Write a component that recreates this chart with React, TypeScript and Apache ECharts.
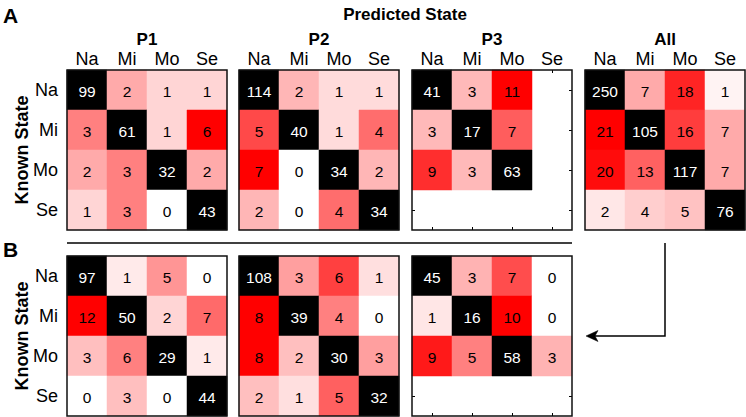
import React, { useEffect, useRef } from "react";
import * as echarts from "echarts";

const states = ["Na", "Mi", "Mo", "Se"];

// Panel A (rows = known state, columns = predicted state)
const aP1 = [
  [99, 2, 1, 1],
  [3, 61, 1, 6],
  [2, 3, 32, 2],
  [1, 3, 0, 43],
];
const aP2 = [
  [114, 2, 1, 1],
  [5, 40, 1, 4],
  [7, 0, 34, 2],
  [2, 0, 4, 34],
];
const aP3 = [
  [41, 3, 11, null],
  [3, 17, 7, null],
  [9, 3, 63, null],
  [null, null, null, null],
];
const aAll = [
  [250, 7, 18, 1],
  [21, 105, 16, 7],
  [20, 13, 117, 7],
  [2, 4, 5, 76],
];
// Panel B
const bP1 = [
  [97, 1, 5, 0],
  [12, 50, 2, 7],
  [3, 6, 29, 1],
  [0, 3, 0, 44],
];
const bP2 = [
  [108, 3, 6, 1],
  [8, 39, 4, 0],
  [8, 2, 30, 3],
  [2, 1, 5, 32],
];
const bP3 = [
  [45, 3, 7, 0],
  [1, 16, 10, 0],
  [9, 5, 58, 3],
  [null, null, null, null],
];

const panelTitles = ["P1", "P2", "P3", "All"];

const FONT = "'Liberation Sans', Arial, Helvetica, sans-serif";

const panels = [
  { data: aP1, left: 67, top: 70, title: panelTitles[0], yLabels: true },
  { data: aP2, left: 239, top: 70, title: panelTitles[1], yLabels: false },
  { data: aP3, left: 412, top: 70, title: panelTitles[2], yLabels: false },
  { data: aAll, left: 585, top: 70, title: panelTitles[3], yLabels: false },
  { data: bP1, left: 67, top: 256, title: null, yLabels: true },
  { data: bP2, left: 239, top: 256, title: null, yLabels: false },
  { data: bP3, left: 412, top: 256, title: null, yLabels: false },
];

const SIZE = 160;

function buildOption() {
  const grid: any[] = [];
  const xAxis: any[] = [];
  const yAxis: any[] = [];
  const series: any[] = [];
  const graphic: any[] = [];

  panels.forEach((p, gi) => {
    grid.push({ left: p.left, top: p.top, width: SIZE, height: SIZE, containLabel: false });
    const tick = { show: true, inside: true, length: 3, alignWithLabel: true, lineStyle: { color: "#000", width: 1 } };
    const isTop = p.top < 100;
    xAxis.push({
      type: "category", gridIndex: gi, data: states, position: "top",
      axisLine: { show: false }, axisTick: tick,
      axisLabel: { show: isTop, margin: 2, fontSize: 18, color: "#000", fontFamily: FONT },
      splitLine: { show: false },
    });
    xAxis.push({
      type: "category", gridIndex: gi, data: states, position: "bottom",
      axisLine: { show: false }, axisTick: tick, axisLabel: { show: false },
    });
    yAxis.push({
      type: "category", gridIndex: gi, data: states, inverse: true, position: "left",
      axisLine: { show: false }, axisTick: tick,
      axisLabel: { show: p.yLabels, margin: 9, fontSize: 18, color: "#000", fontFamily: FONT },
    });
    yAxis.push({
      type: "category", gridIndex: gi, data: states, inverse: true, position: "right",
      axisLine: { show: false }, axisTick: tick, axisLabel: { show: false },
    });

    let maxOff = 0;
    p.data.forEach((row, r) => row.forEach((v, c) => {
      if (v !== null && r !== c && v > maxOff) maxOff = v;
    }));
    const cells: any[] = [];
    p.data.forEach((row, r) => row.forEach((v, c) => {
      if (v === null) return;
      let fill: string;
      let textFill: string;
      if (r === c) {
        fill = "#000";
        textFill = "#fff";
      } else {
        const t = maxOff > 0 ? v / maxOff : 0;
        const g = Math.round(255 * (1 - t));
        fill = `rgb(255,${g},${g})`;
        textFill = "#000";
      }
      cells.push({ value: [c, r, v], fill, textFill });
    }));

    series.push({
      type: "custom",
      xAxisIndex: gi * 2,
      yAxisIndex: gi * 2,
      data: cells.map((d) => ({ value: d.value })),
      renderItem: (params: any, api: any) => {
        const d = cells[params.dataIndex];
        const pt = api.coord([api.value(0), api.value(1)]);
        const sz = api.size([1, 1]);
        const children: any[] = [
          {
            type: "rect",
            shape: { x: pt[0] - sz[0] / 2, y: pt[1] - sz[1] / 2, width: sz[0], height: sz[1] },
            style: { fill: d.fill, stroke: d.fill, lineWidth: 0.5 },
          },
          {
            type: "text",
            style: {
              text: String(d.value[2]), x: pt[0], y: pt[1] + 1, align: "center", verticalAlign: "middle",
              fill: d.textFill, fontSize: 15.5, fontFamily: FONT,
            },
            z2: 5,
          },
        ];
        if (params.dataIndex === 0) {
          const cs = params.coordSys;
          children.push({
            type: "rect",
            shape: { x: cs.x, y: cs.y, width: cs.width, height: cs.height },
            style: { fill: "none", stroke: "#111", lineWidth: 1.5 },
            z2: 10,
          });
        }
        return { type: "group", children };
      },
    });

    if (p.title) {
      graphic.push({
        type: "text", x: p.left + SIZE / 2, y: 39,
        style: { text: p.title, align: "center", verticalAlign: "middle", font: `bold 17px ${FONT}`, fill: "#000" },
      });
    }
  });

  graphic.push(
    { type: "text", x: 3, y: 15, style: { text: "A", align: "left", verticalAlign: "middle", font: `bold 21px ${FONT}`, fill: "#000" } },
    { type: "text", x: 3, y: 249, style: { text: "B", align: "left", verticalAlign: "middle", font: `bold 21px ${FONT}`, fill: "#000" } },
    { type: "text", x: 405, y: 14, style: { text: "Predicted State", align: "center", verticalAlign: "middle", font: `bold 17px ${FONT}`, fill: "#000" } },
    { type: "text", x: 22, y: 150, rotation: Math.PI / 2, style: { text: "Known State", align: "center", verticalAlign: "middle", font: `bold 18px ${FONT}`, fill: "#000" } },
    { type: "text", x: 22, y: 336, rotation: Math.PI / 2, style: { text: "Known State", align: "center", verticalAlign: "middle", font: `bold 18px ${FONT}`, fill: "#000" } },
    { type: "line", shape: { x1: 67, y1: 243, x2: 572, y2: 243 }, style: { stroke: "#000", lineWidth: 1.5 } },
    { type: "polyline", shape: { points: [[665, 243], [665, 336], [594, 336]] }, style: { stroke: "#000", lineWidth: 1.5, fill: "none" } },
    { type: "polygon", shape: { points: [[586, 336], [598, 330.5], [595, 336], [598, 341.5]] }, style: { fill: "#000", stroke: "#000", lineWidth: 0.5 } },
  );

  return { animation: false, backgroundColor: "#fff", grid, xAxis, yAxis, series, graphic };
}

export default function App() {
  const ref = useRef<HTMLDivElement>(null);
  useEffect(() => {
    if (!ref.current) return;
    const chart = echarts.init(ref.current, null, { renderer: "svg" });
    chart.setOption(buildOption() as any);
    return () => chart.dispose();
  }, []);
  return (
    <div
      ref={ref}
      style={{ position: "absolute", left: 0, top: 0, width: 746, height: 417 }}
    />
  );
}
